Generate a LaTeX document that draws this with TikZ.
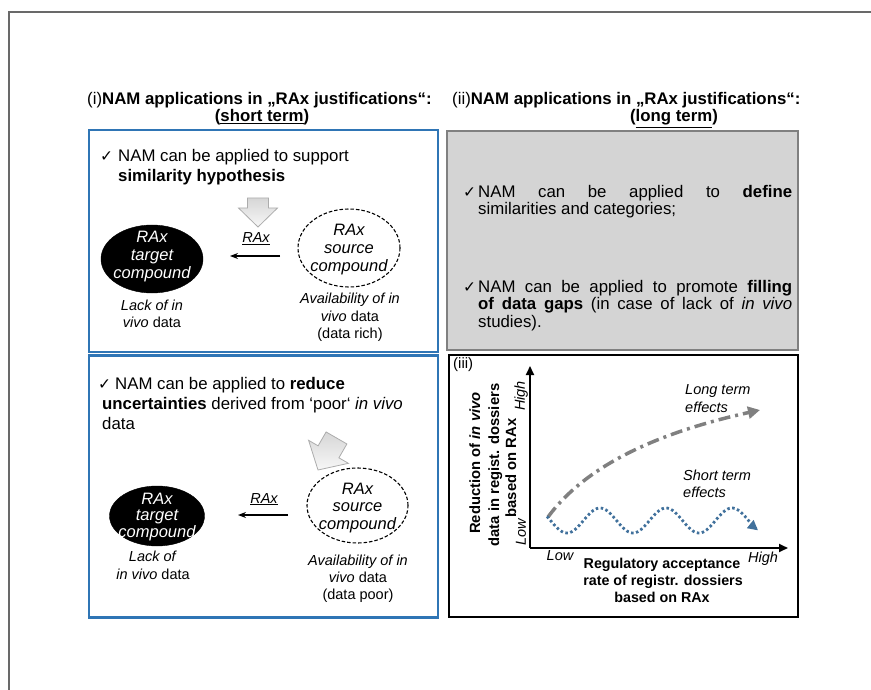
\documentclass[tikz,border=0pt]{standalone}
\usepackage{fontspec}
\setmainfont{Liberation Sans}
\newfontfamily\symfont{DejaVu Sans}
\usetikzlibrary{shapes.geometric, arrows.meta}

\definecolor{frameblue}{RGB}{47,117,181}
\definecolor{outergray}{RGB}{105,105,105}
\definecolor{boxgray}{RGB}{212,212,212}
\definecolor{boxedge}{RGB}{128,128,128}
\definecolor{longgray}{RGB}{128,128,128}
\definecolor{shortblue}{RGB}{65,113,156}

\tikzset{
  headtext/.style={font=\fontsize{16.8}{20}\selectfont, inner sep=0},
  body/.style={font=\fontsize{16.8}{20}\selectfont, inner sep=0, anchor=base west},
  checkglyph/.style={font=\symfont\fontsize{15.5}{17}\selectfont, inner sep=0, anchor=base west},
  capt/.style={font=\fontsize{14.5}{17}\selectfont, inner sep=0, anchor=base},
  panelbox/.style={rectangle, inner sep=0},
  blockarrow/.style={top color=gray!32, bottom color=gray!6, draw=gray!65, line width=0.8pt, line join=miter},
  targetshape/.style={ellipse, fill=black, draw=black, inner sep=0},
  sourceshape/.style={ellipse, draw=black, line width=1.1pt, dash pattern=on 3.5pt off 2pt, inner sep=0},
  ellipsetext/.style={font=\fontsize{16.5}{18}\selectfont\itshape, align=center, inner sep=0},
  raxarrow/.style={line width=1.3pt, -{Stealth[length=8pt, width=6pt]}},
  axisline/.style={line width=1.8pt, -{Triangle[length=9pt, width=8pt]}},
  chartlabel/.style={font=\fontsize{14.5}{17}\selectfont\itshape, inner sep=0},
  charttitle/.style={font=\fontsize{14.8}{18}\selectfont\bfseries, inner sep=0},
  xtitle/.style={font=\fontsize{14.3}{17}\selectfont\bfseries, inner sep=0, anchor=base},
}

\begin{document}
\begin{tikzpicture}[x=1pt, y=-1pt]
\useasboundingbox (0,0) rectangle (871,690);

% outer frame (top and left edges)
\draw[outergray, line width=2pt] (9,690) -- (9,12) -- (871,12);

% column headings
\node[headtext, anchor=base west] (headL) at (87,105) {(i)\textbf{NAM applications in „RAx justifications“:}};
\node[headtext, anchor=base] (headLb) at (262,122) {\textbf{(\underline{short term})}};
\node[headtext, anchor=base west] (headR) at (452,105) {(ii)\textbf{NAM applications in „RAx justifications“:}};
\node[headtext, anchor=base] (headRb) at (674,122) {\textbf{(\underline{long term})}};

% panel frames
\node[panelbox, draw=frameblue, line width=2.5pt, minimum width=349, minimum height=222] (boxA) at (263.5,241) {};
\node[panelbox, draw=frameblue, line width=2.5pt, minimum width=349, minimum height=262] (boxB) at (263.5,486.5) {};
\node[panelbox, fill=boxgray, draw=boxedge, line width=2.5pt, minimum width=351, minimum height=219] (boxC) at (622.5,240.5) {};
\node[panelbox, draw=black, line width=1.8pt, minimum width=349, minimum height=262] (boxD) at (623.5,486) {};

% ---------- panel (i), upper part ----------
\node[checkglyph] (chkA) at (100,162) {✓};
\node[body] (txtA1) at (118,162) {NAM can be applied to support};
\node[body] (txtA2) at (118,182) {\textbf{similarity hypothesis}};

\shade[blockarrow] (258,227) -- (238.5,208) -- (247.5,208) -- (247.5,198)
  -- (268.5,198) -- (268.5,208) -- (277.5,208) -- cycle;

\node[targetshape, minimum width=102, minimum height=68] (tgtA) at (152,259) {};
\node[ellipsetext, text=white] (tgtAtxt) at (152,257) {RAx\\target\\compound};
\node[sourceshape, minimum width=102, minimum height=78] (srcA) at (349,248) {};
\node[ellipsetext] (srcAtxt) at (349,250) {RAx\\source\\compound};

\node[capt] (raxA) at (256,243) {\textit{\underline{RAx}}};
\coordinate (arrAfrom) at (280,256);
\coordinate (arrAto) at (230,256);
\draw[raxarrow] (arrAfrom) -- (arrAto);

\node[capt] (lackA1) at (152,310) {\textit{Lack of in}};
\node[capt] (lackA2) at (152,327) {\textit{vivo} data};
\node[capt] (availA1) at (350,303) {\textit{Availability of in}};
\node[capt] (availA2) at (350,321) {\textit{vivo} data};
\node[capt] (availA3) at (350,338) {(data rich)};

% ---------- panel (i), lower part ----------
\node[checkglyph] (chkB) at (98,389) {✓};
\node[body] (txtB1) at (115,389) {NAM can be applied to \textbf{reduce}};
\node[body] (txtB2) at (102,409) {\textbf{uncertainties} derived from ‘poor‘ \textit{in vivo}};
\node[body] (txtB3) at (102,429) {data};

\begin{scope}[shift={(318,470)}, rotate=-30]
  \shade[blockarrow] (0,0) -- (-23,-21) -- (-12,-21) -- (-12,-37)
    -- (12,-37) -- (12,-21) -- (23,-21) -- cycle;
\end{scope}

\node[targetshape, minimum width=95, minimum height=60] (tgtB) at (157,516) {};
\node[ellipsetext, text=white, font=\fontsize{16.5}{16.5}\selectfont\itshape] (tgtBtxt) at (157,517) {RAx\\target\\compound};
\node[sourceshape, minimum width=101, minimum height=75] (srcB) at (357.5,505.5) {};
\node[ellipsetext, font=\fontsize{16.5}{17.5}\selectfont\itshape] (srcBtxt) at (357.5,508) {RAx\\source\\compound};

\node[capt] (raxB) at (264,503) {\textit{\underline{RAx}}};
\coordinate (arrBfrom) at (288,515);
\coordinate (arrBto) at (238,515);
\draw[raxarrow] (arrBfrom) -- (arrBto);

\node[capt] (lackB1) at (153,561) {\textit{Lack of}};
\node[capt] (lackB2) at (153,579) {\textit{in vivo} data};
\node[capt] (availB1) at (358,565) {\textit{Availability of in}};
\node[capt] (availB2) at (358,582) {\textit{vivo} data};
\node[capt] (availB3) at (358,599) {(data poor)};

% ---------- panel (ii) ----------
\node[checkglyph] (chkC1) at (463,197) {✓};
\node[body] (txtC1) at (478,197) {\makebox[314pt][s]{NAM can be applied to \textbf{define}}};
\node[body] (txtC2) at (478,214.5) {similarities and categories;};
\node[checkglyph] (chkC2) at (463,292) {✓};
\node[body] (txtC3) at (478,292) {\makebox[314pt][s]{NAM can be applied to promote \textbf{filling}}};
\node[body] (txtC4) at (478,309.5) {\makebox[314pt][s]{\textbf{of data gaps} (in case of lack of \textit{in vivo}}};
\node[body] (txtC5) at (478,327) {studies).};

% ---------- panel (iii): chart ----------
\node[font=\fontsize{15}{18}\selectfont, inner sep=0, anchor=base west] (iiiLabel) at (453,368) {(iii)};

\coordinate (origin) at (530,548);
\coordinate (ytip) at (530,366);
\coordinate (xtip) at (788,548);
\draw[axisline] (origin) -- (ytip);
\draw[axisline] (origin) -- (xtip);

\node[chartlabel, rotate=90] (yHigh) at (521,396) {High};
\node[chartlabel, rotate=90] (yLow) at (521,532) {Low};
\node[chartlabel, anchor=base] (xLow) at (560,560) {Low};
\node[chartlabel, anchor=base] (xHigh) at (763,562) {High};

\node[charttitle, rotate=90, anchor=base] (yTitle1) at (480,463) {Reduction of \textit{in vivo}};
\node[charttitle, rotate=90, anchor=base] (yTitle2) at (499,465) {data in regist. dossiers};
\node[charttitle, rotate=90, anchor=base] (yTitle3) at (516,468) {based on RAx};

\node[xtitle] (xTitle1) at (662,568) {Regulatory acceptance};
\node[xtitle] (xTitle2) at (663,585) {rate of registr. dossiers};
\node[xtitle] (xTitle3) at (662,602) {based on RAx};

% long-term trend
\draw[longgray, line width=3.5pt, dash pattern=on 12pt off 5pt on 3pt off 5pt,
      -{Triangle[length=12pt, width=12pt]}]
  (548,517) .. controls (590,460) and (670,430) .. (760,410);
\node[chartlabel, anchor=base west] (longLbl1) at (685,394) {Long term};
\node[chartlabel, anchor=base west] (longLbl2) at (685,412) {effects};

% short-term oscillation
\draw[shortblue, line width=2.8pt, dash pattern=on 2.5pt off 2.5pt,
      -{Triangle[length=10pt, width=10pt]}]
  plot[domain=547:758, samples=120, variable=\t] ({\t}, {520.5+12.5*sin((\t-616.5)*5.4545)});
\node[chartlabel, anchor=base west] (shortLbl1) at (683,480) {Short term};
\node[chartlabel, anchor=base west] (shortLbl2) at (683,497) {effects};

\end{tikzpicture}
\end{document}
